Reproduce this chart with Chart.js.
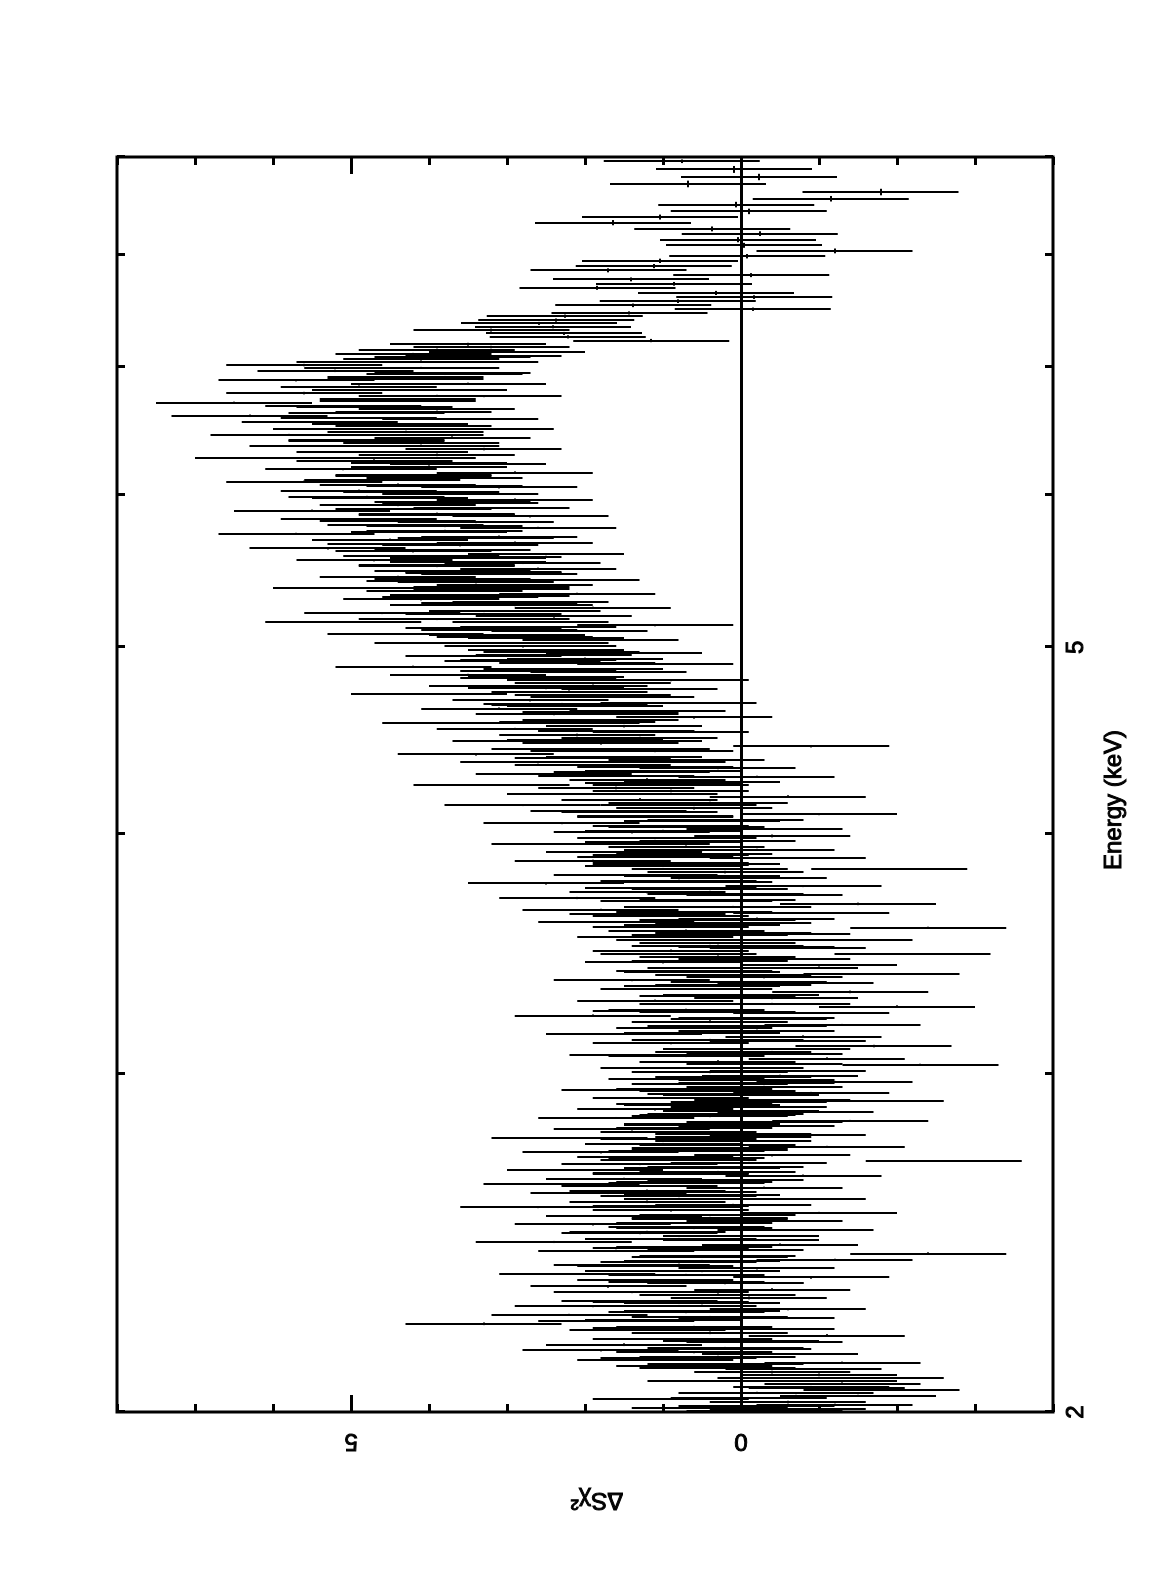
<!DOCTYPE html>
<html>
<head>
<meta charset="utf-8">
<title>Delta chi residuals</title>
<script src="https://cdn.jsdelivr.net/npm/chart.js@4.4.1/dist/chart.umd.min.js"></script>
<style>
  html, body { margin: 0; padding: 0; background: #fff; overflow: hidden; }
  #page { position: relative; width: 1171px; height: 1575px; }
  /* the plot is drawn landscape and turned a quarter turn anticlockwise */
  #rot { position: absolute; left: 0; top: 0; width: 1575px; height: 1171px;
         transform-origin: 0 0; transform: translate(0px, 1575px) rotate(-90deg); }
</style>
</head>
<body>
<div id="page"><div id="rot"><canvas id="resid" width="1575" height="1171"></canvas></div></div>
<script>
// bin energies (keV) and residuals, grouped by energy band
const enA = [2.003, 2.010, 2.018, 2.024, 2.032, 2.039, 2.047, 2.054, 2.061, 2.069, 2.076, 2.083, 2.091, 2.098];
const dcA = [-0.3, 0.4, -1.2, -0.6, 0.9, -1.5, -0.2, -1.8, -0.9, -1.3, 0.2, -1.6, -1.0, -0.4];

const enB = [2.106, 2.113, 2.122, 2.129, 2.137, 2.144, 2.153, 2.160, 2.168, 2.176, 2.183, 2.192, 2.199, 2.207, 2.215,
             2.223, 2.231, 2.238, 2.247, 2.254, 2.262, 2.270, 2.278, 2.285, 2.293];
const dcB = [-0.8, 0.6, -1.3, 1.1, 0.3, -0.5, 1.8, 0.2, 1.5, -0.3, 0.9, -1.1, 0.4, 1.2, 0.6,
             3.3, 1.6, -0.2, 2.2, 0.7, -0.6, 1.9, 0.5, 1.3, -0.1];

const enC = [2.308, 2.316, 2.325, 2.334, 2.342, 2.350, 2.359, 2.367, 2.376, 2.385, 2.393, 2.401, 2.410, 2.418, 2.427,
             2.436, 2.444, 2.452, 2.461, 2.470, 2.478, 2.487, 2.495, 2.504, 2.513, 2.521, 2.530, 2.539, 2.547, 2.556,
             2.564, 2.573, 2.582, 2.590, 2.599];
const dcC = [0.9, -0.4, 1.7, 0.2, 1.1, -0.9, 2.1, 0.5, -0.2, 1.4, 0.8, -1.2, 0.3, -2.4, 1.6,
             0.6, -0.5, 2.4, 1.0, 0.0, 1.3, -0.7, 0.7, 1.9, -0.3, 0.4, 1.5, -1.0, 0.9, 2.6,
             0.1, 1.2, -0.6, 0.8, 1.7];

const enD = [2.608, 2.617, 2.627, 2.636, 2.645, 2.655, 2.664, 2.673, 2.682, 2.692, 2.701, 2.711, 2.720, 2.730, 2.739,
             2.749, 2.758, 2.768, 2.777, 2.787, 2.796, 2.806, 2.816, 2.825, 2.835, 2.845, 2.855, 2.864, 2.874, 2.884,
             2.894, 2.904, 2.914, 2.923, 2.933, 2.943, 2.953, 2.963, 2.972, 2.982, 2.992];
const dcD = [1.2, -0.3, 2.3, 0.6, 1.5, -0.8, 0.9, 2.0, 0.2, 1.3, -2.6, 0.7, -0.4, 1.8, 0.4,
             -1.1, 1.0, 0.1, 2.2, -0.6, 0.8, 1.4, -0.2, 0.5, -1.4, 1.6, 0.3, -0.7, 1.1, -0.1,
             0.6, -1.6, 0.9, 0.0, -0.9, 1.3, -0.3, 0.4, -1.2, 0.7, -0.5];

const enE = [3.010, 3.021, 3.033, 3.044, 3.055, 3.067, 3.078, 3.089, 3.101, 3.112, 3.124, 3.136, 3.147, 3.158, 3.170,
             3.181, 3.193, 3.205, 3.216, 3.227, 3.239, 3.251, 3.262, 3.274, 3.286, 3.297, 3.309, 3.321, 3.333, 3.344,
             3.356, 3.368, 3.380, 3.392, 3.404, 3.416, 3.428, 3.440, 3.452, 3.464, 3.476, 3.488, 3.498];
const dcE = [-0.6, 0.8, -2.3, 0.3, -1.1, 1.2, 0.1, -0.4, -1.7, 0.9, 0.2, -0.8, 1.5, -0.2, 0.6,
             -1.3, 0.4, -0.1, 1.9, -0.9, 0.7, -2.0, 0.3, 1.1, -0.5, 0.0, -1.4, 0.8, 0.5, -0.7,
             1.4, -0.3, -1.8, 0.6, 0.2, -1.0, 1.0, -0.4, 0.3, -2.2, 0.9, -0.6, 0.4];

const enF = [3.508, 3.521, 3.535, 3.547, 3.560, 3.574, 3.586, 3.599, 3.613, 3.625, 3.638, 3.651, 3.665, 3.677, 3.690,
             3.703, 3.717, 3.729, 3.742, 3.756, 3.768, 3.781, 3.795, 3.807, 3.820, 3.833, 3.847, 3.859, 3.872, 3.885,
             3.899, 3.911, 3.924, 3.938, 3.950, 3.963, 3.977, 3.989];
const dcF = [0.3, -1.2, 1.1, -0.4, 0.7, -2.4, 0.5, 1.6, -0.2, 0.9, -0.9, 1.8, 0.1, -1.5, 0.6,
             2.1, -0.3, 1.2, 0.4, -0.8, 2.5, 0.8, -0.1, 1.4, 0.2, -1.9, 1.0, 0.5, 1.9, -0.6,
             0.9, 1.5, -0.2, 0.7, 2.2, 0.3, 1.1, -0.4];

const enG = [4.007, 4.022, 4.036, 4.051, 4.066, 4.080, 4.094, 4.109, 4.124, 4.138, 4.152, 4.167, 4.182, 4.196, 4.210,
             4.225, 4.240, 4.254, 4.268, 4.283, 4.298, 4.312, 4.326, 4.341, 4.356, 4.370, 4.384, 4.399, 4.414, 4.428,
             4.442, 4.457, 4.472, 4.486];
const dcG = [1.4, -0.3, 0.9, 2.3, 0.2, 1.1, -1.0, 1.7, 0.6, 2.8, 0.4, 1.3, -0.6, 2.0, 0.9,
             1.6, 3.2, 0.5, 1.2, -0.2, 2.4, 1.0, 0.3, 1.9, 2.6, 0.7, 1.5, 3.4, 1.1, 2.2,
             -0.9, 1.8, 2.7, 1.3];

const enH = [4.502, 4.518, 4.535, 4.550, 4.566, 4.583, 4.598, 4.614, 4.631, 4.646, 4.662, 4.679, 4.694, 4.710, 4.727,
             4.742, 4.758, 4.775, 4.790, 4.806, 4.823, 4.838, 4.854, 4.871, 4.886, 4.902, 4.919, 4.934, 4.950, 4.967,
             4.982];
const dcH = [2.1, 0.9, 2.9, 1.5, 3.6, 1.8, 0.6, 2.4, 1.2, 3.1, 2.0, 0.8, 2.7, 1.6, 4.0,
             2.2, 1.3, 3.0, 1.9, 0.9, 2.6, 3.5, 1.7, 2.3, 4.2, 1.1, 2.8, 2.0, 3.3, 1.5,
             2.5];

const enI = [5.009, 5.027, 5.046, 5.063, 5.081, 5.100, 5.117, 5.135, 5.154, 5.171, 5.189, 5.208, 5.225, 5.243, 5.262,
             5.279, 5.297, 5.316, 5.333, 5.351, 5.370, 5.387, 5.405, 5.424, 5.441, 5.459, 5.478, 5.495];
const dcI = [2.6, 3.7, 1.8, 2.9, 4.3, 2.2, 3.3, 1.1, 5.1, 3.9, 2.4, 4.6, 3.0, 1.9, 3.5,
             2.7, 4.1, 3.2, 2.1, 3.8, 5.0, 2.9, 3.4, 2.3, 4.4, 3.1, 3.7, 2.6];

const enJ = [5.510, 5.531, 5.550, 5.570, 5.591, 5.610, 5.630, 5.651, 5.670, 5.690, 5.711, 5.730, 5.750, 5.771, 5.790,
             5.810, 5.831, 5.850, 5.870, 5.891, 5.910, 5.930, 5.951, 5.970, 5.990];
const dcJ = [3.9, 2.8, 4.7, 3.3, 2.5, 4.2, 5.3, 3.6, 2.9, 4.5, 3.1, 5.7, 3.8, 2.6, 4.3,
             3.4, 4.9, 2.7, 3.9, 5.5, 3.2, 4.4, 3.7, 2.9, 4.8];

const enK = [6.012, 6.034, 6.057, 6.078, 6.100, 6.123, 6.144, 6.166, 6.189, 6.210, 6.232, 6.255, 6.276, 6.298, 6.321,
             6.342, 6.364, 6.387, 6.408, 6.430, 6.453, 6.474, 6.496];
const dcK = [3.6, 4.9, 3.1, 4.4, 5.6, 3.8, 4.2, 2.9, 5.1, 4.0, 3.5, 4.7, 6.0, 3.9, 4.5,
             3.3, 5.3, 4.1, 4.8, 3.7, 5.8, 4.3, 3.4];

const enL = [6.522, 6.548, 6.575, 6.600, 6.626, 6.653, 6.678, 6.704, 6.731, 6.756, 6.782, 6.809, 6.834, 6.860, 6.887,
             6.912, 6.938, 6.965, 6.990, 7.014, 7.038, 7.062, 7.086, 7.108, 7.126];
const dcL = [4.2, 5.4, 3.6, 6.3, 4.8, 3.9, 5.1, 6.5, 4.4, 3.3, 5.6, 4.0, 4.9, 3.5, 5.7,
             4.3, 3.8, 5.2, 4.6, 5.6, 4.7, 4.1, 3.7, 4.2, 3.0];

const enM = [7.144, 7.167, 7.191, 7.223, 7.255, 7.285, 7.314, 7.343, 7.373, 7.402, 7.437, 7.466, 7.499, 7.534, 7.572,
             7.609, 7.647, 7.694, 7.731, 7.772, 7.812, 7.857, 7.897, 7.947, 7.991, 8.042, 8.096, 8.151, 8.210, 8.257,
             8.319, 8.375, 8.432, 8.501, 8.561, 8.630, 8.714, 8.787, 8.867, 8.954];
const dcM = [3.90, 3.20, 3.50, 1.15, 2.22, 2.27, 3.20, 2.41, 2.59, 2.37, 2.26, 1.43, -0.15, 1.38, 0.81,
             -0.17, 0.32, 1.84, 0.86, 1.41, -0.13, 1.70, 1.12, 1.04, -0.08, -1.20, -0.04, 0.04, -0.24, 0.37,
             1.64, 1.04, -0.10, 0.06, -1.15, -1.79, 0.68, -0.23, 0.09, 0.76];

// further interleaved bins in the dense 2-7 keV part
const enP = [2.008, 2.033, 2.058, 2.083, 2.108, 2.133, 2.158, 2.183, 2.208, 2.233, 2.258, 2.283, 2.308, 2.333, 2.358,
             2.383, 2.408, 2.433, 2.458, 2.483, 2.508, 2.533, 2.558, 2.583,
             2.604, 2.622, 2.641, 2.660, 2.678, 2.697, 2.716, 2.735, 2.754, 2.773, 2.792, 2.811, 2.830, 2.850, 2.869,
             2.889, 2.908, 2.928, 2.947, 2.967, 2.987];
const dcP = [-0.6, -0.1, -1.1, -0.7, 0.3, 0.8, 0.1, 0.6, -0.2, 1.0, 0.5, 0.9, 1.4, 0.2, 0.7,
             1.1, 0.4, 0.9, 0.0, 1.2, 0.6, 0.3, 1.0, 0.5,
             0.8, 1.3, 0.2, 0.9, 0.5, -0.1, 1.1, 0.7, 0.3, 0.8, 0.1, 0.6, -0.3, 0.4, 0.0,
             0.5, -0.4, 0.2, 0.6, -0.2, 0.1];

const enQ = [3.006, 3.034, 3.063, 3.091, 3.120, 3.149, 3.177, 3.206, 3.234, 3.263, 3.291, 3.320, 3.349, 3.377, 3.406,
             3.434, 3.463, 3.491, 3.520, 3.549, 3.577, 3.606, 3.634, 3.663, 3.691, 3.720, 3.749, 3.777, 3.806, 3.834,
             3.863, 3.891, 3.920, 3.949, 3.977];
const dcQ = [0.4, -0.3, 0.7, 0.0, -0.6, 0.5, 0.2, -0.2, 0.9, -0.4, 0.3, 0.6, -0.1, 0.1, -0.5,
             0.4, 0.8, -0.2, 0.6, 0.1, 0.9, 0.3, 1.2, 0.5, 0.8, 0.2, 1.0, 0.6, 1.3, 0.4,
             0.9, 1.1, 0.5, 1.4, 0.8];

const enR = [4.015, 4.060, 4.105, 4.150, 4.196, 4.242, 4.288, 4.334, 4.380, 4.427, 4.474, 4.521, 4.568, 4.616, 4.664,
             4.712, 4.760, 4.809, 4.858, 4.907, 4.956, 5.006, 5.056, 5.106, 5.156, 5.207, 5.258, 5.309, 5.360, 5.412,
             5.464, 5.516, 5.568];
const dcR = [1.0, 0.5, 1.3, 0.7, 1.4, 0.9, 1.6, 1.1, 1.9, 1.4, 2.0, 1.6, 2.3, 1.8, 2.2,
             1.7, 2.5, 2.0, 2.6, 2.1, 2.4, 2.8, 2.5, 3.1, 2.7, 3.3, 2.9, 3.6, 3.2, 3.8,
             3.3, 3.9, 3.5];

const enS = [5.540, 5.580, 5.620, 5.660, 5.700, 5.740, 5.780, 5.820, 5.861, 5.902, 5.943, 5.984, 6.025, 6.066, 6.108,
             6.150, 6.192, 6.234, 6.277, 6.320, 6.363, 6.406, 6.450, 6.494, 6.538, 6.582, 6.627, 6.672, 6.717, 6.762,
             6.808, 6.854, 6.900, 6.946, 6.993, 7.040, 7.087];
const dcS = [3.5, 4.1, 3.7, 4.3, 3.4, 4.0, 3.8, 4.4, 3.9, 4.2, 3.6, 4.5, 4.1, 3.8, 4.6,
             4.2, 4.9, 4.0, 4.4, 4.7, 4.1, 4.8, 4.3, 5.0, 4.5, 4.9, 4.2, 4.7, 4.4, 3.9,
             4.5, 4.0, 4.3, 3.7, 4.1, 3.6, 3.3];

const enT = [4.525, 4.575, 4.625, 4.675, 4.725, 4.775, 4.825, 4.875, 4.925, 4.975, 5.025, 5.075, 5.125, 5.175, 5.225,
             5.275, 5.325, 5.375, 5.425, 5.475];
const dcT = [1.6, 2.1, 1.8, 2.3, 1.9, 2.2, 2.5, 2.0, 2.6, 2.3, 2.7, 3.0, 2.6, 3.2, 2.8,
             3.1, 3.5, 3.2, 3.7, 3.3];

const enU = [2.015, 2.045, 2.075, 2.118, 2.148, 2.178, 2.212, 2.242, 2.272, 2.302, 2.338, 2.368, 2.398, 2.428, 2.462,
             2.492, 2.525, 2.561, 2.595, 2.631, 2.668, 2.705, 2.743, 2.782, 2.821, 2.860, 2.899, 2.938, 2.977];
const dcU = [-0.2, -0.7, -1.0, 0.2, 0.6, 0.0, 0.9, 0.4, 0.8, 0.3, 0.7, 1.0, 0.5, 0.2, 0.8,
             0.6, 0.4, 0.9, 0.5, 0.7, 0.3, 0.8, 0.4, 0.1, 0.5, 0.2, -0.1, 0.3, -0.2];

const enV = [3.020, 3.072, 3.125, 3.178, 3.230, 3.283, 3.336, 3.389, 3.442, 3.495, 3.542, 3.592, 3.643, 3.695, 3.747,
             3.800, 3.852, 3.905, 3.958, 4.030, 4.085, 4.140, 4.195, 4.250, 4.305, 4.360, 4.415, 4.470];
const dcV = [0.2, -0.3, 0.4, -0.1, 0.3, -0.4, 0.1, 0.5, -0.2, 0.2, 0.4, 0.1, 0.6, 0.3, 0.8,
             0.5, 0.9, 0.6, 1.0, 0.7, 1.1, 0.8, 1.3, 1.0, 1.4, 1.2, 1.7, 1.5];

const chiErr = 1;   // delchi error bars are +/-1 sigma

// axes
const energyTicks = [2, 3, 4, 5, 6, 7, 8, 9];
const energyLabels = [2, 5];
const chiTicks = [-4, -3, -2, -1, 0, 1, 2, 3, 4, 5, 6, 7, 8];
const chiLabels = [0, 5];

const energyGroups = [enA, enB, enC, enD, enE, enF, enG, enH, enI, enJ, enK, enL, enM, enP, enQ, enR, enS, enT, enU, enV];
const delchiGroups = [dcA, dcB, dcC, dcD, dcE, dcF, dcG, dcH, dcI, dcJ, dcK, dcL, dcM, dcP, dcQ, dcR, dcS, dcT, dcU, dcV];

const points = [];
energyGroups.forEach(function (en, g) {
    const dc = delchiGroups[g];
    if (en.length !== dc.length) console.warn("length mismatch in group", g, en.length, dc.length);
    for (let i = 0; i < Math.min(en.length, dc.length); i++) {
        points.push({ x: en[i], y: dc[i] });
    }
});
points.sort(function (a, b) { return a.x - b.x; });

const FONT = '24px "Liberation Sans", Arial, sans-serif';

function drawLabel(ctx, text, x, y, rot) {
    ctx.save();
    ctx.translate(x, y);
    if (rot) ctx.rotate(rot);
    ctx.fillText(text, 0, 0);
    ctx.strokeText(text, 0, 0);
    ctx.restore();
}

const residPlugin = {
    id: "residPlugin",
    beforeDatasetsDraw(chart) {
        const { ctx, chartArea: a, scales: { y } } = chart;
        // zero line
        const y0 = Math.round(y.getPixelForValue(0)) + 0.5;
        ctx.save();
        ctx.strokeStyle = "#000";
        ctx.lineWidth = 3;
        ctx.beginPath();
        ctx.moveTo(a.left, y0);
        ctx.lineTo(a.right, y0);
        ctx.stroke();
        ctx.restore();
    },
    afterDatasetsDraw(chart) {
        const { ctx, chartArea: a, scales: { x, y } } = chart;
        const pts = chart.data.datasets[0].data;
        ctx.save();
        ctx.beginPath();
        ctx.rect(a.left, a.top, a.right - a.left, a.bottom - a.top);
        ctx.clip();
        ctx.strokeStyle = "#000";
        ctx.lineCap = "butt";
        ctx.lineWidth = 2;
        pts.forEach(function (p, i) {
            const prev = pts[Math.max(i - 1, 0)].x;
            const next = pts[Math.min(i + 1, pts.length - 1)].x;
            const half = 0.22 * (next - prev);
            const px = Math.round(x.getPixelForValue(p.x));
            const py = Math.round(y.getPixelForValue(p.y));
            ctx.beginPath();
            // residual error bar
            ctx.moveTo(px, y.getPixelForValue(p.y - chiErr));
            ctx.lineTo(px, y.getPixelForValue(p.y + chiErr));
            // energy bin
            ctx.moveTo(x.getPixelForValue(p.x - half), py);
            ctx.lineTo(x.getPixelForValue(p.x + half), py);
            ctx.stroke();
        });
        ctx.restore();
    },
    afterDraw(chart) {
        const { ctx, chartArea: a, scales: { x, y } } = chart;
        ctx.save();
        ctx.strokeStyle = "#000";
        ctx.fillStyle = "#000";

        // ticks, pointing inwards on all four sides
        ctx.lineWidth = 3;
        energyTicks.forEach(function (e) {
            const px = Math.round(x.getPixelForValue(e)) + 0.5;
            ctx.beginPath();
            ctx.moveTo(px, a.bottom); ctx.lineTo(px, a.bottom - 8);
            ctx.moveTo(px, a.top); ctx.lineTo(px, a.top + 8);
            ctx.stroke();
        });
        chiTicks.forEach(function (v) {
            const py = Math.round(y.getPixelForValue(v)) + 0.5;
            const len = chiLabels.includes(v) ? 17 : 8;
            ctx.beginPath();
            ctx.moveTo(a.left, py); ctx.lineTo(a.left + len, py);
            ctx.moveTo(a.right, py); ctx.lineTo(a.right - len, py);
            ctx.stroke();
        });

        // frame
        ctx.lineWidth = 3;
        ctx.strokeRect(a.left, a.top, a.right - a.left, a.bottom - a.top);

        // labels
        ctx.font = FONT;
        ctx.textAlign = "center";
        ctx.textBaseline = "middle";
        ctx.lineWidth = 1;
        energyLabels.forEach(function (e) {
            drawLabel(ctx, String(e), x.getPixelForValue(e), a.bottom + 23, 0);
        });
        chiLabels.forEach(function (v) {
            drawLabel(ctx, String(v), a.left - 29, y.getPixelForValue(v), -Math.PI / 2);
        });
        drawLabel(ctx, "Energy (keV)", 775, a.bottom + 61, 0);
        drawLabel(ctx, "\u0394S\u03c7\u00b2", a.left - 88, 597, -Math.PI / 2);
        ctx.restore();
    }
};

new Chart(document.getElementById("resid"), {
    type: "scatter",
    data: {
        datasets: [{
            label: "delchi",
            data: points,
            pointRadius: 0,
            pointHoverRadius: 0,
            showLine: false
        }]
    },
    options: {
        responsive: false,
        animation: false,
        devicePixelRatio: 1,
        events: [],
        layout: { padding: { left: 163, right: 157, top: 117, bottom: 118 } },
        plugins: {
            legend: { display: false },
            tooltip: { enabled: false }
        },
        scales: {
            x: { type: "logarithmic", min: 2, max: 9, display: false },
            y: { type: "linear", min: -4, max: 8, display: false }
        }
    },
    plugins: [residPlugin]
});
</script>
</body>
</html>
